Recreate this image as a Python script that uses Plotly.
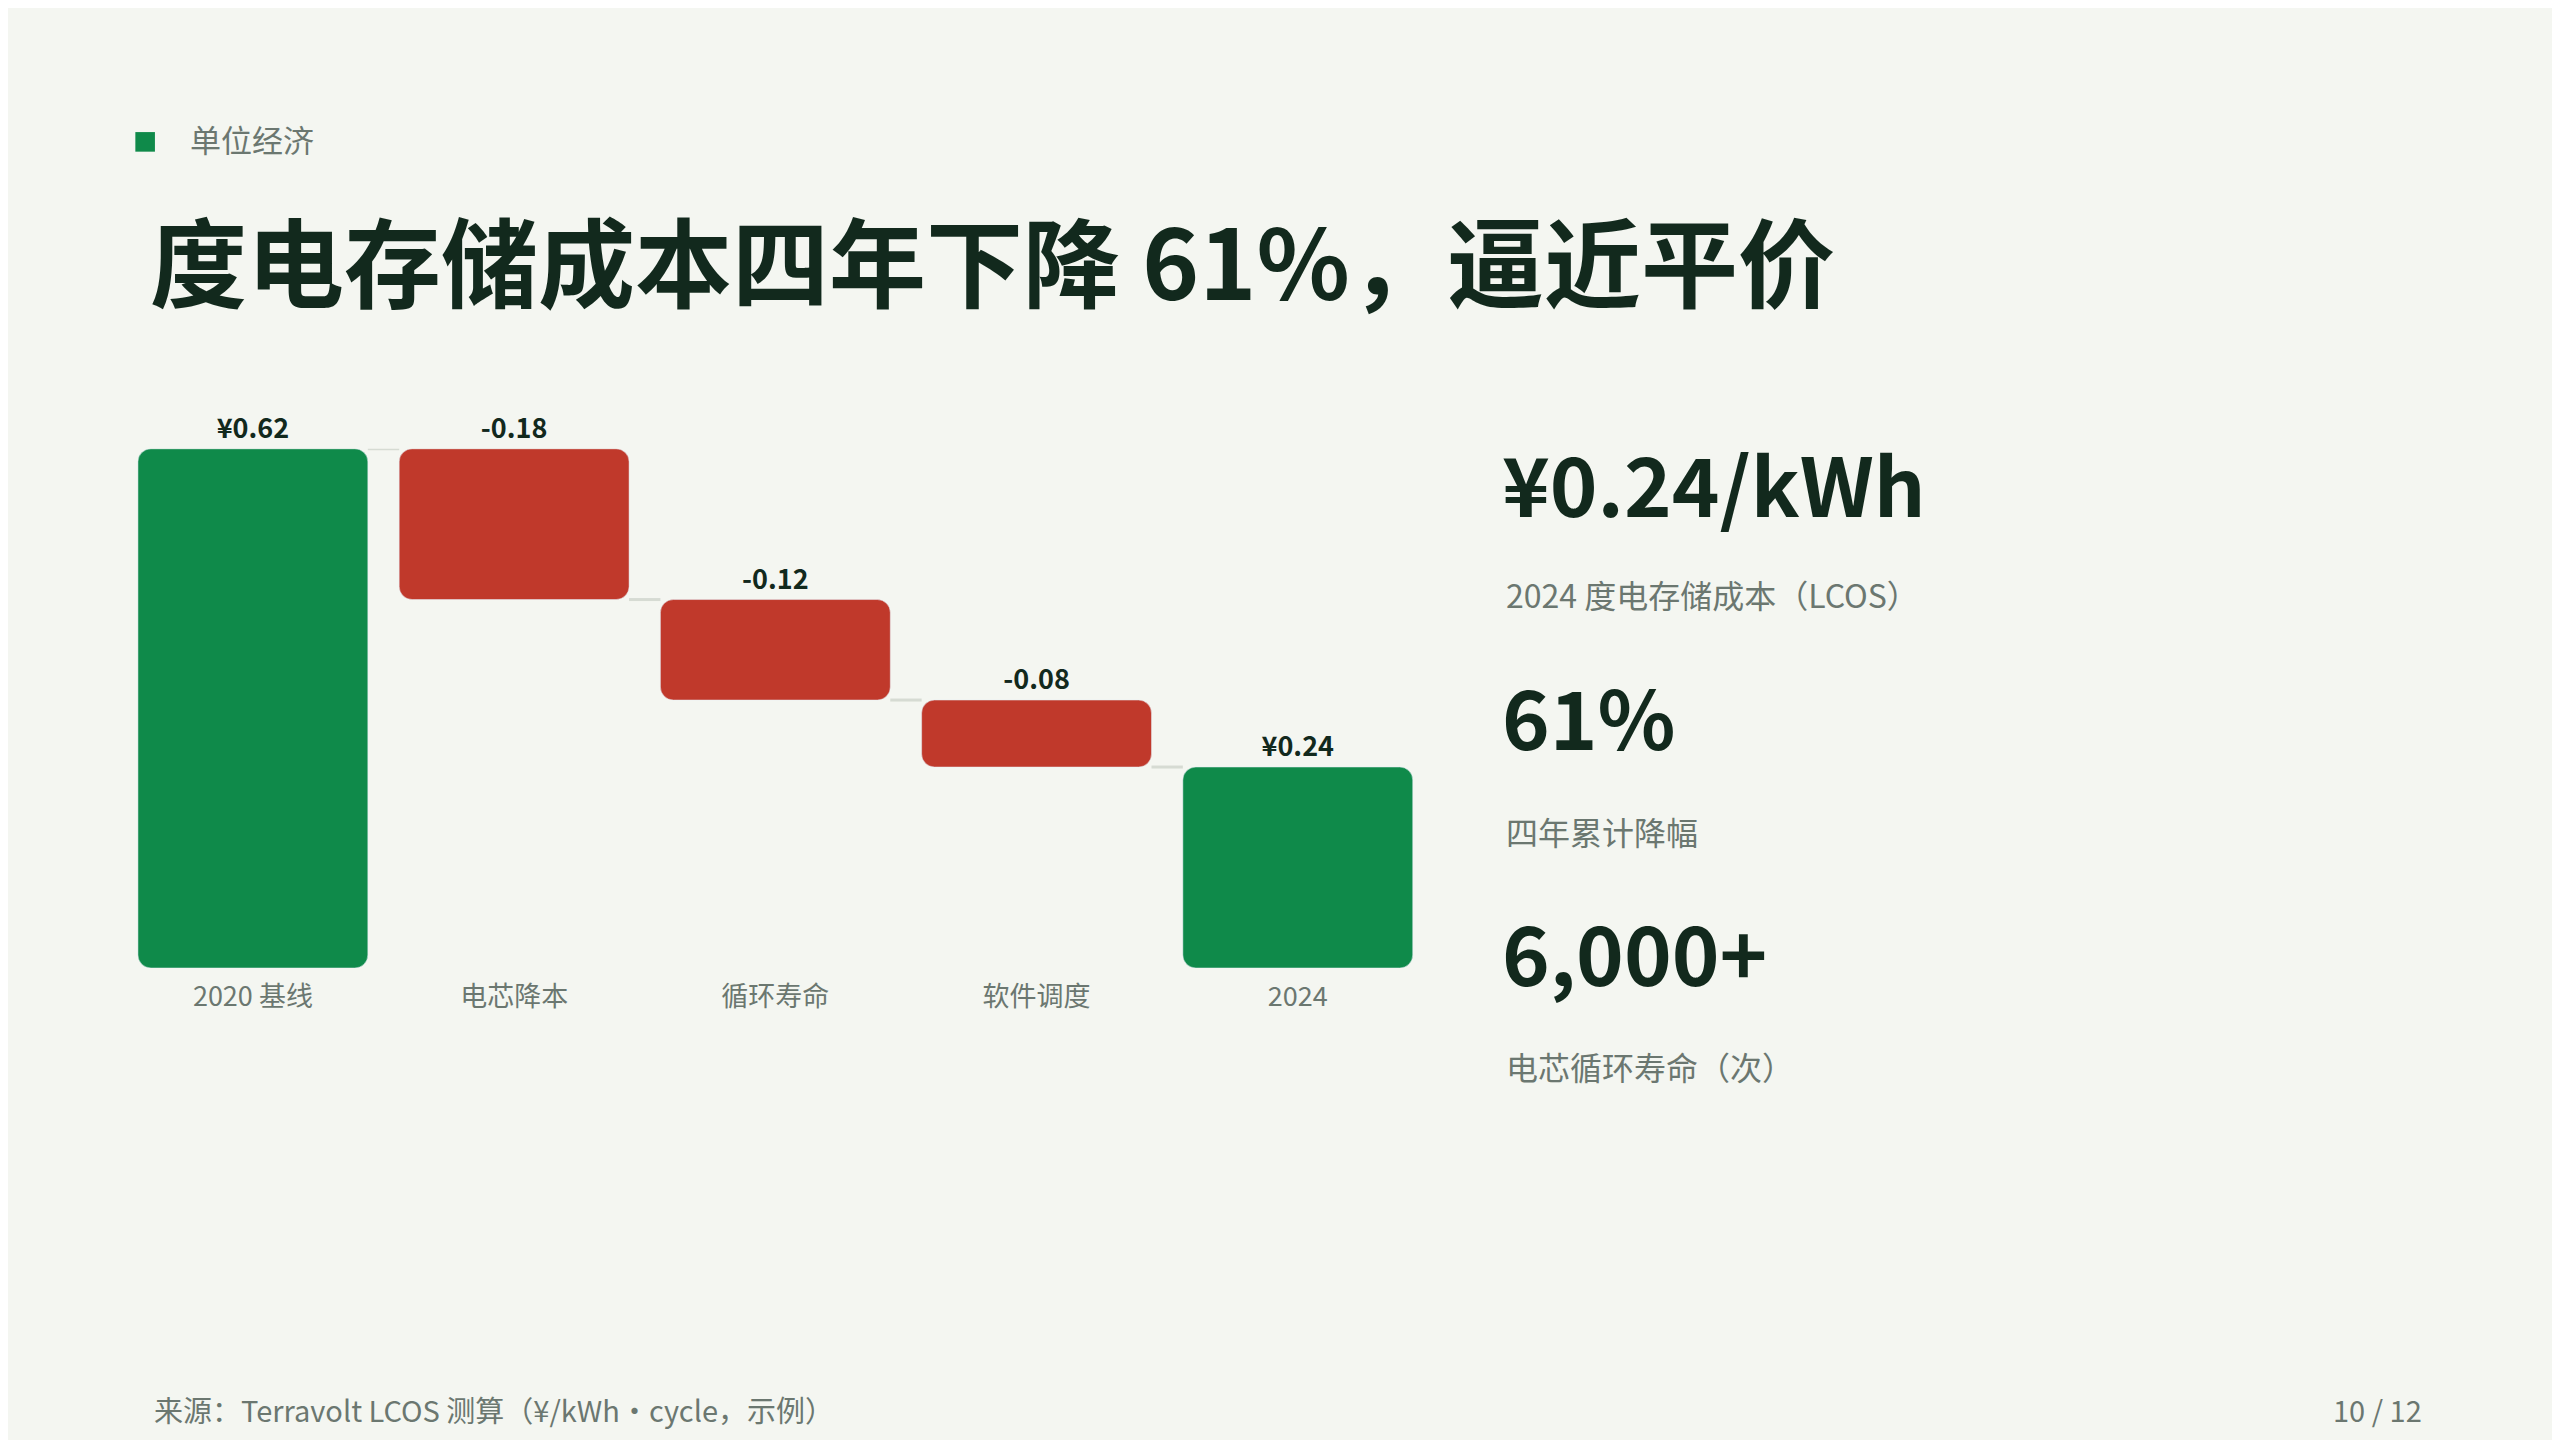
import plotly.graph_objects as go

categories = ["2020 基线", "电芯降本", "循环寿命", "软件调度", "2024"]
deltas = [0.62, -0.18, -0.12, -0.08, 0.24]
kinds = ["total", "delta", "delta", "delta", "total"]
labels = ["¥0.62", "-0.18", "-0.12", "-0.08", "¥0.24"]
kpi_values = ["¥0.24/kWh", "61%", "6,000+"]
kpi_labels = ["2024 度电存储成本（LCOS）", "四年累计降幅", "电芯循环寿命（次）"]

W, H = 2560, 1440
RW, RH = 1568, 882
def fx(x): return x / RW
def fy(y): return 1 - y / RH
S = W / RW

GREEN = "#0f8a4a"; RED = "#c0392b"; DARK = "#12291d"; GRAY = "#6b7770"; BG = "#f4f6f1"
FONT = "Noto Sans CJK SC"

bases, heights, colors, levels = [], [], [], []
run = 0.0
for d, k in zip(deltas, kinds):
    if k == "total":
        bases.append(0); heights.append(d); colors.append(GREEN); run = d
    else:
        bases.append(run + d); heights.append(-d); colors.append(RED); run = run + d
    levels.append(run)

fig = go.Figure(go.Bar(
    x=categories, y=heights, base=bases, marker=dict(color=colors, cornerradius=int(8*S)),
    width=0.88, text=labels, textposition="outside", cliponaxis=False,
    textfont=dict(family=FONT, size=int(17*S), color=DARK, weight="bold"),
    hoverinfo="skip"))

shapes = []
for i in range(len(categories) - 1):
    top = bases[i] + heights[i] if kinds[i] == "total" else bases[i]
    shapes.append(dict(type="line", xref="x", yref="y", x0=i + 0.44, x1=i + 0.56,
                       y0=levels[i], y1=levels[i], line=dict(color="#d6dbd3", width=3)))
shapes.append(dict(type="rect", xref="paper", yref="paper", x0=fx(78), x1=fx(90),
                   y0=fy(88), y1=fy(76), fillcolor=GREEN, line_width=0))

ann = []
def A(x, y, t, size, color, bold=False, xa="left"):
    ann.append(dict(x=fx(x), y=fy(y), xref="paper", yref="paper", text=t, showarrow=False,
                    xanchor=xa, yanchor="middle",
                    font=dict(family=FONT, size=int(size*S), color=color, weight="bold" if bold else "normal")))
A(110, 80, "单位经济", 19, GRAY)
A(86, 153, "度电存储成本四年下降 61%，逼近平价", 60, DARK, True)
ys = [(290, 359), (433, 504), (577, 648)]
for (vy, ly), v, l in zip(ys, kpi_values, kpi_labels):
    A(914, vy, v, 50, DARK, True)
    A(916, ly, l, 20, GRAY)
A(88, 858, "来源：Terravolt LCOS 测算（¥/kWh·cycle，示例）", 18, GRAY)
A(1480, 858, "10 / 12", 18, GRAY, xa="right")

fig.update_layout(
    width=W, height=H, margin=dict(l=0, r=0, t=0, b=0),
    paper_bgcolor=BG, plot_bgcolor=BG, showlegend=False,
    shapes=shapes, annotations=ann,
    xaxis=dict(domain=[fx(70), fx(870)], showgrid=False, zeroline=False, showline=False,
               tickfont=dict(family=FONT, size=int(17*S), color=GRAY), ticks="", ticklabelstandoff=10),
    yaxis=dict(domain=[fy(588), fy(270)], range=[0, 0.62], visible=False),
    bargap=0.12,
)
fig.write_html("out.html")
